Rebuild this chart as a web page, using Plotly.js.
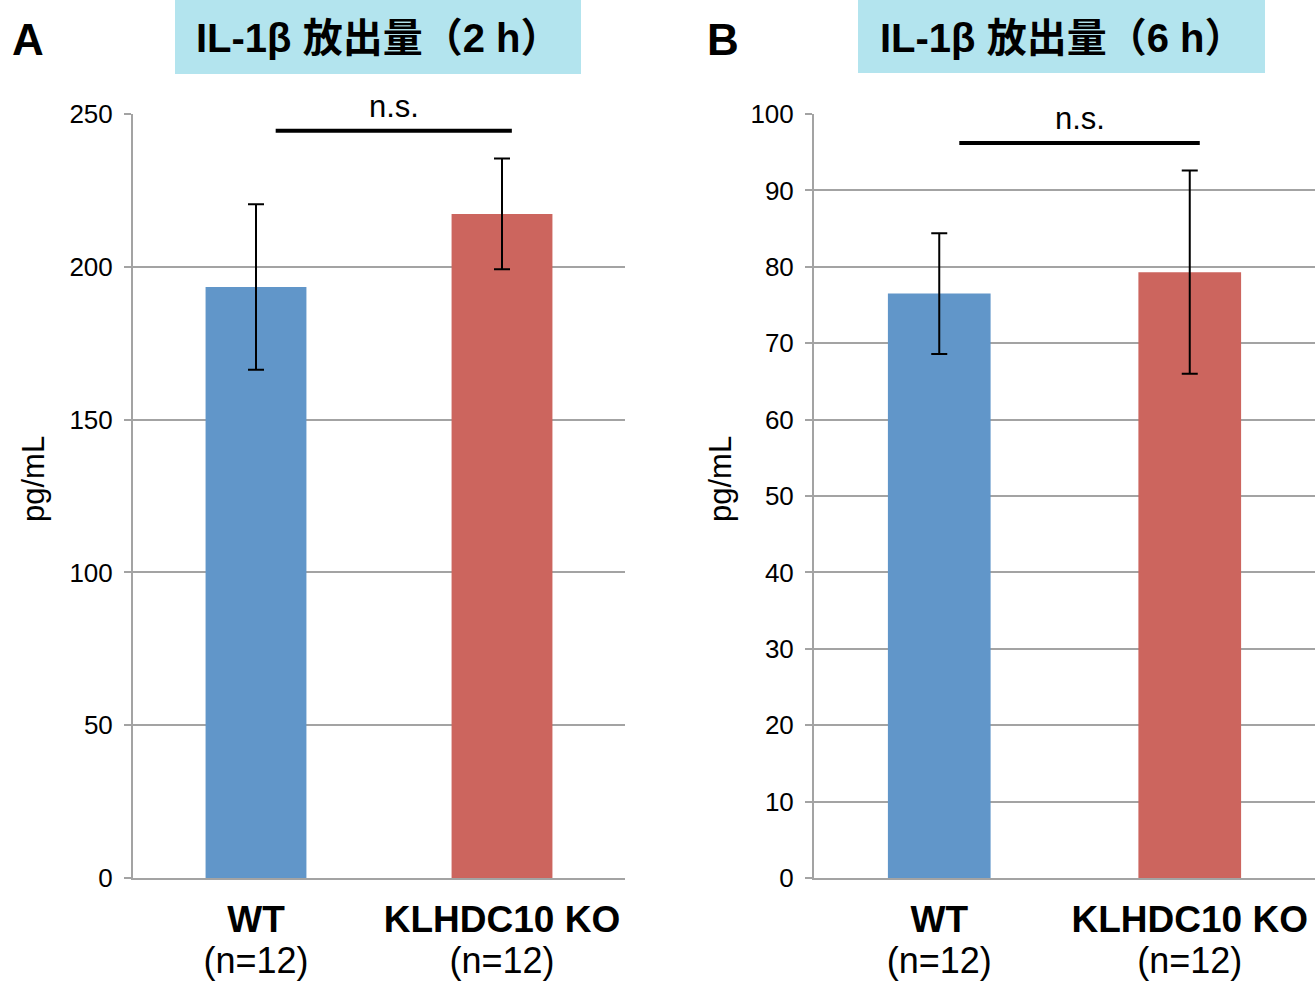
<!DOCTYPE html>
<html>
<head>
<meta charset="utf-8">
<script src="https://cdn.plot.ly/plotly-3.0.1.min.js"></script>
<style>html,body{margin:0;padding:0;background:#fff;}#chart{width:1316px;height:981px;}</style>
</head>
<body>
<div id="chart"></div>
<script>
// ---- data ----
const categories = ['WT', 'KLHDC10 KO'];
const nLabels = ['(n=12)', '(n=12)'];
const mean2h = [193.4, 217.3];
const err2h = [27.1, 18.1];
const mean6h = [76.5, 79.3];
const err6h = [7.9, 13.3];
const barColors = ['#6196c9', '#cc655e'];
const panelTitles = ['IL-1β 放出量（2 h）', 'IL-1β 放出量（6 h）'];
const panelLetters = ['A', 'B'];
const sigLabel = 'n.s.';
const sigY = [244.5, 96.2];          // height of significance bar (data units)
const sigSpan = [0.08, 1.04];        // bar ends in category units
const yRanges = [[0, 250], [0, 100]];
const yDticks = [50, 10];
const yTitle = 'pg/mL';

// ---- layout helpers ----
const W = 1316, H = 981;
const FONT = 'Liberation Sans, Arial, Noto Sans CJK JP, sans-serif';
const px = v => v / W;
const py = v => 1 - v / H;
const grid = '#a3a3a3';

const tickText = categories.map((c, i) =>
  '<span style="font-size:37px;font-weight:bold">' + c + '</span><br>' +
  '<span style="font-size:36px">' + nLabels[i] + '</span>');

function errBar(arr) {
  return {type: 'data', array: arr, visible: true, color: '#000', thickness: 2, width: 8};
}

const traces = [
  {type: 'bar', x: categories, y: mean2h, error_y: errBar(err2h),
   marker: {color: barColors}, xaxis: 'x', yaxis: 'y', width: 0.41, hoverinfo: 'y'},
  {type: 'bar', x: categories, y: mean6h, error_y: errBar(err6h),
   marker: {color: barColors}, xaxis: 'x2', yaxis: 'y2', width: 0.41, hoverinfo: 'y'}
];

function xAxis(domain, anchor) {
  return {domain: domain, anchor: anchor, type: 'category', range: [-0.5, 1.5],
    showline: true, linecolor: grid, linewidth: 2, ticks: '', showgrid: false,
    tickvals: categories, ticktext: tickText, tickfont: {family: FONT, size: 31, color: '#000'},
    ticklabelstandoff: 15, fixedrange: true};
}
function yAxis(domain, anchor, range, dtick) {
  return {domain: domain, anchor: anchor, range: range, dtick: dtick,
    showline: true, linecolor: grid, linewidth: 2, ticks: 'outside', ticklen: 7,
    tickcolor: grid, tickwidth: 2, showgrid: true, gridcolor: grid, gridwidth: 2,
    zeroline: false, tickfont: {family: FONT, size: 26, color: '#000'},
    ticklabelstandoff: 6, fixedrange: true};
}

const yDom = [py(878), py(114)];
const layout = {
  width: W, height: H, margin: {l: 0, r: 0, t: 0, b: 0},
  paper_bgcolor: '#fff', plot_bgcolor: '#fff', showlegend: false,
  font: {family: FONT, color: '#000'},
  xaxis: xAxis([px(133), px(625)], 'y'),
  yaxis: yAxis(yDom, 'x', yRanges[0], yDticks[0]),
  xaxis2: xAxis([px(814), px(1315)], 'y2'),
  yaxis2: yAxis(yDom, 'x2', yRanges[1], yDticks[1]),
  shapes: [
    {type: 'rect', xref: 'paper', yref: 'paper', x0: px(175), x1: px(581), y0: py(74), y1: py(0),
     fillcolor: '#b3e4ee', line: {width: 0}, layer: 'below'},
    {type: 'rect', xref: 'paper', yref: 'paper', x0: px(858), x1: px(1265), y0: py(73), y1: py(0),
     fillcolor: '#b3e4ee', line: {width: 0}, layer: 'below'},
    {type: 'line', xref: 'x', yref: 'y', x0: sigSpan[0], x1: sigSpan[1], y0: sigY[0], y1: sigY[0],
     line: {color: '#000', width: 4}},
    {type: 'line', xref: 'x2', yref: 'y2', x0: sigSpan[0], x1: sigSpan[1], y0: sigY[1], y1: sigY[1],
     line: {color: '#000', width: 4}}
  ],
  annotations: [
    {xref: 'paper', yref: 'paper', x: px(378), y: py(38), text: '<b>' + panelTitles[0] + '</b>',
     showarrow: false, font: {family: FONT, size: 40, color: '#000'}, xanchor: 'center', yanchor: 'middle'},
    {xref: 'paper', yref: 'paper', x: px(1062), y: py(38), text: '<b>' + panelTitles[1] + '</b>',
     showarrow: false, font: {family: FONT, size: 40, color: '#000'}, xanchor: 'center', yanchor: 'middle'},
    {xref: 'paper', yref: 'paper', x: px(10), y: py(40), text: '<b>' + panelLetters[0] + '</b>',
     showarrow: false, font: {family: FONT, size: 44, color: '#000'}, xanchor: 'left', yanchor: 'middle'},
    {xref: 'paper', yref: 'paper', x: px(705), y: py(40), text: '<b>' + panelLetters[1] + '</b>',
     showarrow: false, font: {family: FONT, size: 44, color: '#000'}, xanchor: 'left', yanchor: 'middle'},
    {xref: 'paper', yref: 'paper', x: px(33), y: py(479), text: yTitle, textangle: -90,
     showarrow: false, font: {family: FONT, size: 31, color: '#000'}, xanchor: 'center', yanchor: 'middle'},
    {xref: 'paper', yref: 'paper', x: px(720), y: py(479), text: yTitle, textangle: -90,
     showarrow: false, font: {family: FONT, size: 31, color: '#000'}, xanchor: 'center', yanchor: 'middle'},
    {xref: 'x', yref: 'y', x: (sigSpan[0] + sigSpan[1]) / 2, y: sigY[0], text: sigLabel,
     showarrow: false, font: {family: FONT, size: 31, color: '#000'}, yanchor: 'bottom', yshift: 5},
    {xref: 'x2', yref: 'y2', x: (sigSpan[0] + sigSpan[1]) / 2, y: sigY[1], text: sigLabel,
     showarrow: false, font: {family: FONT, size: 31, color: '#000'}, yanchor: 'bottom', yshift: 5}
  ]
};

Plotly.newPlot('chart', traces, layout, {displayModeBar: false, staticPlot: true});
</script>
</body>
</html>
